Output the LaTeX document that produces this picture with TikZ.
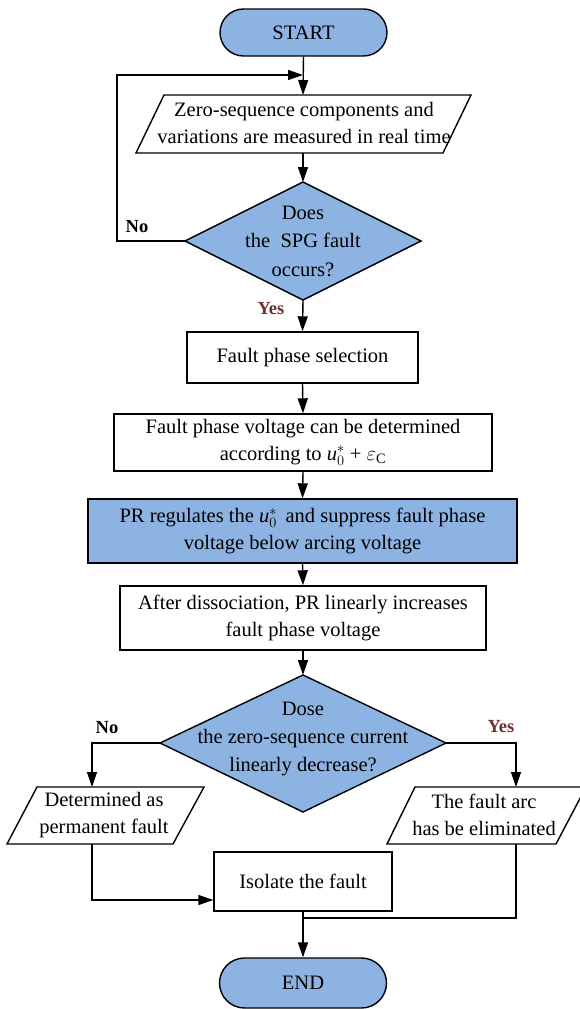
\documentclass[tikz,border=0pt]{standalone}
\usepackage{fontspec}
\setmainfont{Liberation Serif}
\usetikzlibrary{arrows.meta}
\definecolor{fillblue}{RGB}{141,179,226}
\definecolor{yesred}{RGB}{112,48,48}
\begin{document}
\begin{tikzpicture}[x=1pt,y=-1pt,line width=1.4pt,
  txt/.style={font=\fontsize{20.5}{26.5}\selectfont,align=center,inner sep=0pt},
  box/.style={draw,txt,line width=1.4pt},
  term/.style={box,fill=fillblue,rounded corners=23.5pt,minimum width=167pt,minimum height=47pt},
  shape2/.style={draw,line width=1.4pt},
  lbl/.style={font=\fontsize{18.5}{20}\selectfont\bfseries,inner sep=0pt},
  arr/.style={-{Triangle[length=15pt,width=10pt]},line width=1.4pt},
  ln/.style={line width=1.4pt}]
\useasboundingbox (0,0) rectangle (580,1009);

% START
\node[term] (start) at (303.5,32.5) {START};

% parallelogram 1
\draw[shape2] (164,95) coordinate (p1tl) -- (471,95) coordinate (p1tr) -- (443,153) coordinate (p1br) -- (136,153) coordinate (p1bl) -- cycle;
\coordinate (p1t) at (303,95);
\coordinate (p1b) at (303,153);
\node[txt] (p1) at (304,123) {Zero-sequence components and\\variations are measured in real time};

% diamond 1
\draw[shape2,fill=fillblue] (303,182) coordinate (d1t) -- (421,241) coordinate (d1r) -- (303,300) coordinate (d1b) -- (185,241) coordinate (d1l) -- cycle;
\node[txt,font=\fontsize{20.5}{28.5}\selectfont] (d1) at (303,241) {Does\\the \ SPG fault\\occurs?};

% boxes
\node[box,minimum width=231pt,minimum height=51pt] (sel) at (302.5,357.5) {Fault phase selection};
\node[box,minimum width=378pt,minimum height=57pt] (vol) at (303,442.5) {Fault phase voltage can be determined\\according to \textit{u}$^{*}_{0}$ + $\varepsilon_{\mathrm{C}}$};
\node[box,fill=fillblue,minimum width=429pt,minimum height=64pt] (pr) at (302.5,531) {PR regulates the \textit{u}$^{*}_{0}$ \,and suppress fault phase\\voltage below arcing voltage};
\node[box,minimum width=366pt,minimum height=64pt] (after) at (303,618) {After dissociation, PR linearly increases\\fault phase voltage};

% diamond 2
\draw[shape2,fill=fillblue] (303,675) coordinate (d2t) -- (446,743) coordinate (d2r) -- (303,812) coordinate (d2b) -- (160,743) coordinate (d2l) -- cycle;
\node[txt,font=\fontsize{20.5}{28}\selectfont] (d2) at (303,739) {Dose\\the zero-sequence current\\linearly decrease?};

% left parallelogram
\draw[shape2] (37,787) -- (204,787) -- (173,844) -- (7,844) -- cycle;
\coordinate (plt) at (92,787);
\coordinate (plb) at (92,844);
\node[txt] (pl) at (104,815) {Determined as\\permanent fault};

% right parallelogram
\draw[shape2] (415,787) -- (586,787) -- (556,844) -- (387,844) -- cycle;
\coordinate (prt) at (516,787);
\coordinate (prb) at (516,844);
\node[txt] (prp) at (484,815) {The fault arc\\has be eliminated};

% isolate
\node[box,minimum width=178pt,minimum height=59pt] (iso) at (303,881.5) {Isolate the fault};

% END
\node[term,minimum height=50pt,rounded corners=25pt] (end) at (303,983) {END};

% connectors
\draw[arr] (start.south) -- (p1t);
\draw[arr] (p1b) -- (d1t);
\coordinate (lp1) at (117,241);
\coordinate (lp2) at (117,75);
\coordinate (lp3) at (303,75);
\draw[arr] (d1l) -- (lp1) -- (lp2) -- (lp3);
\draw[arr] (d1b) -- (sel.north);
\draw[arr] (sel.south) -- (vol.north);
\draw[arr] (vol.south) -- (pr.north);
\draw[arr] (pr.south) -- (after.north);
\draw[arr] (after.south) -- (d2t);
\coordinate (nl) at (92,743);
\draw[arr] (d2l) -- (nl) -- (plt);
\coordinate (yr) at (516,743);
\draw[arr] (d2r) -- (yr) -- (prt);
\coordinate (bl) at (92,900);
\draw[arr] (plb) -- (bl) -- (bl -| iso.west);
\coordinate (br) at (516,918);
\coordinate (bm) at (303,918);
\draw[ln] (prb) -- (br) -- (bm);
\draw[arr] (iso.south) -- (end.north);

% labels
\node[lbl] (no1) at (137,227) {No};
\node[lbl,text=yesred] (yes1) at (271,309) {Yes};
\node[lbl] (no2) at (107,728) {No};
\node[lbl,text=yesred] (yes2) at (501,727) {Yes};
\end{tikzpicture}
\end{document}
